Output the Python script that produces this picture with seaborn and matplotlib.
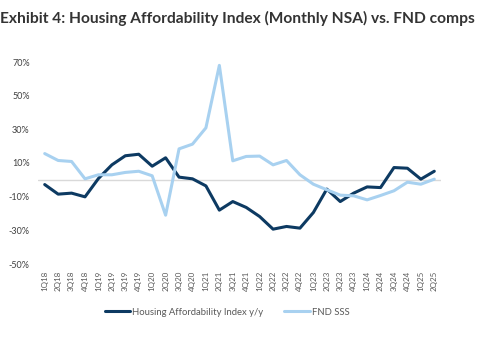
import matplotlib
matplotlib.use("Agg")
import matplotlib.pyplot as plt
import seaborn as sns
import pandas as pd
import numpy as np

quarters = ["1Q18", "2Q18", "3Q18", "4Q18", "1Q19", "2Q19", "3Q19", "4Q19",
            "1Q20", "2Q20", "3Q20", "4Q20", "1Q21", "2Q21", "3Q21", "4Q21",
            "1Q22", "2Q22", "3Q22", "4Q22", "1Q23", "2Q23", "3Q23", "4Q23",
            "1Q24", "2Q24", "3Q24", "4Q24", "1Q25", "2Q25"]

housing_affordability = [-2.8, -8.5, -7.9, -10.1, 0.8, 8.9, 14.3, 15.2,
                         8.1, 13.1, 1.6, 0.6, -3.6, -18.0, -12.9, -16.4,
                         -21.8, -29.3, -27.7, -28.7, -19.4, -5.5, -12.9, -7.9,
                         -4.2, -4.6, 7.3, 6.9, 0.4, 5.1]

fnd_sss = [15.6, 11.5, 10.9, 0.6, 3.0, 3.0, 4.4, 5.1,
           2.4, -21.0, 18.4, 21.2, 30.9, 68.0, 11.3, 13.9,
           14.1, 8.9, 11.5, 3.0, -2.6, -5.9, -9.1, -9.5,
           -11.9, -9.3, -6.5, -1.4, -2.6, 0.4]

series_names = ["Housing Affordability Index y/y", "FND SSS"]
series_colors = ["#0d3a62", "#a8d1f0"]
y_ticks = [70, 50, 30, 10, -10, -30, -50]

df = pd.DataFrame({
    "idx": list(range(len(quarters))) * 2,
    "value": housing_affordability + fnd_sss,
    "series": [series_names[0]] * len(quarters) + [series_names[1]] * len(quarters),
})

sns.set_theme(style="white")
plt.rcParams["font.family"] = ["Lato", "DejaVu Sans"]

fig = plt.figure(figsize=(4.85, 3.44), dpi=100)
ax = fig.add_axes([38 / 485, 1 - 264 / 344, (441 - 38) / 485, (264 - 62) / 344])

ax.axhline(0, color="#d9d9d9", lw=1.0, zorder=0)
sns.lineplot(data=df, x="idx", y="value", hue="series", hue_order=series_names,
             palette=series_colors, linewidth=2.2, ax=ax, legend=True, sort=False)

ax.set_xlim(-0.5, len(quarters) - 0.5)
ax.set_ylim(-50, 70)
ax.set_yticks(y_ticks)
ax.set_yticklabels([f"{t}%" for t in y_ticks], fontsize=6.5, color="#404040")
ax.set_xticks(range(len(quarters)))
ax.set_xticklabels(quarters, rotation=90, fontsize=5.8, color="#595959")
ax.tick_params(axis="both", length=0, pad=6)
ax.tick_params(axis="x", pad=5)
ax.set_xlabel("")
ax.set_ylabel("")
for s in ax.spines.values():
    s.set_visible(False)

handles, labels = ax.get_legend_handles_labels()
ax.get_legend().remove()
leg = fig.legend(handles, labels, loc="center", bbox_to_anchor=(0.468, 0.093), ncol=2,
                 frameon=False, fontsize=6.8, handlelength=2.7, handletextpad=0.2,
                 columnspacing=2.2)
for t in leg.get_texts():
    t.set_color("#595959")

fig.text(0.0, 1 - 18 / 344, "Exhibit 4: Housing Affordability Index (Monthly NSA) vs. FND comps",
         fontsize=11.2, fontweight="bold", color="#333333", va="center", ha="left",
         family=["Lato", "DejaVu Sans"])

fig.savefig("out.png", dpi=100)
